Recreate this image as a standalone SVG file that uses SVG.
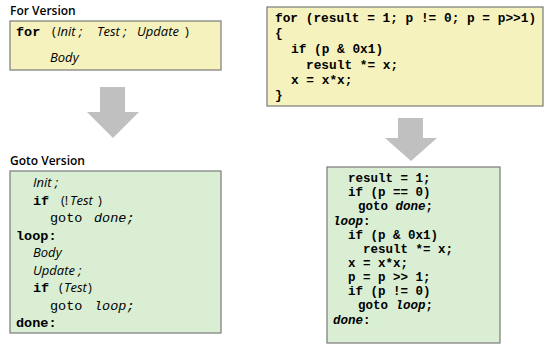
<svg xmlns="http://www.w3.org/2000/svg" width="545" height="345" viewBox="0 0 545 345">
<style>
.hdr{font-family:"Open Sans","Liberation Sans",sans-serif;font-weight:600;font-size:12px;fill:#000}
.yb{fill:#f6f2bd;stroke:#7a7a7a;stroke-width:1.2}
.gb{fill:#d9eed3;stroke:#7a7a7a;stroke-width:1.2}
.kw{font-family:"Liberation Mono","Courier New",monospace;font-weight:bold;font-size:13.5px;fill:#000}
.mono{font-family:"Liberation Mono","Courier New",monospace;font-size:13.5px;fill:#000}
.mi{font-family:"Liberation Mono","Courier New",monospace;font-style:italic;font-size:13.5px;fill:#000}
.it{font-family:"Open Sans","Liberation Sans",sans-serif;font-style:italic;font-size:13px;fill:#000}
.pn{font-family:"Open Sans","Liberation Sans",sans-serif;font-size:13px;fill:#000}
.c1{font-family:"Liberation Mono","Courier New",monospace;font-weight:bold;font-size:12.8px;fill:#000}
.c2{font-family:"Liberation Mono","Courier New",monospace;font-weight:bold;font-size:12.5px;fill:#000}
.c2i{font-family:"Liberation Mono","Courier New",monospace;font-weight:bold;font-style:italic;font-size:12.5px;fill:#000}
.arr{fill:#c0c0c0}
</style>
<g id="for-version">
<text class="hdr" x="10" y="15">For Version</text>
<rect class="yb" x="10" y="21" width="211" height="49"/>
<text class="kw" x="16" y="36">for</text>
<text class="pn" x="52" y="36">(</text>
<text class="it" x="57" y="36">Init ;</text>
<text class="it" x="97" y="36">Test ;</text>
<text class="it" x="137" y="36">Update</text>
<text class="pn" x="185" y="36">)</text>
<text class="it" x="50" y="62">Body</text>
</g>
<g id="goto-version">
<text class="hdr" x="10" y="165">Goto Version</text>
<rect class="gb" x="10" y="171" width="211" height="162"/>
<text class="it" x="33" y="187">Init ;</text>
<text class="kw" x="33" y="204.5">if</text>
<text class="pn" x="61" y="204.5">(!</text>
<text class="it" x="70" y="204.5">Test</text>
<text class="pn" x="98" y="204.5">)</text>
<text class="mono" x="50" y="222">goto</text>
<text class="mi" x="94" y="222">done;</text>
<text class="kw" x="16" y="239.5">loop:</text>
<text class="it" x="33" y="257">Body</text>
<text class="it" x="33" y="274.5">Update ;</text>
<text class="kw" x="33" y="292">if</text>
<text class="pn" x="59" y="292">(</text>
<text class="it" x="64" y="292">Test</text>
<text class="pn" x="88" y="292">)</text>
<text class="mono" x="50" y="309.5">goto</text>
<text class="mi" x="94" y="309.5">loop;</text>
<text class="kw" x="16" y="327">done:</text>
</g>
<g id="for-example">
<rect class="yb" x="267" y="7" width="276" height="99"/>
<text class="c1" x="275" y="22">for (result = 1; p != 0; p = p&gt;&gt;1)</text>
<text class="c1" x="275" y="37">{</text>
<text class="c1" x="291" y="53">if (p &amp; 0x1)</text>
<text class="c1" x="306" y="69">result *= x;</text>
<text class="c1" x="291" y="84">x = x*x;</text>
<text class="c1" x="275" y="99">}</text>
</g>
<g id="goto-example">
<rect class="gb" x="327" y="167" width="173" height="176"/>
<text class="c2" x="348" y="182">result = 1;</text>
<text class="c2" x="348" y="196">if (p == 0)</text>
<text class="c2" x="358" y="210">goto <tspan class="c2i">done</tspan>;</text>
<text class="c2i" x="333" y="224.5">loop<tspan class="c2" font-style="normal">:</tspan></text>
<text class="c2" x="348" y="238.5">if (p &amp; 0x1)</text>
<text class="c2" x="363" y="252.5">result *= x;</text>
<text class="c2" x="348" y="267">x = x*x;</text>
<text class="c2" x="348" y="281">p = p &gt;&gt; 1;</text>
<text class="c2" x="348" y="295">if (p != 0)</text>
<text class="c2" x="358" y="309">goto <tspan class="c2i">loop</tspan>;</text>
<text class="c2i" x="333" y="323.5">done<tspan class="c2" font-style="normal">:</tspan></text>
</g>
<g id="connectors">
<polygon class="arr" points="100,87 125,87 125,112 139,112 113,138 87,112 100,112"/>
<polygon class="arr" points="398,118 423,118 423,138 437,138 411,161 385,138 398,138"/>
</g>
</svg>
